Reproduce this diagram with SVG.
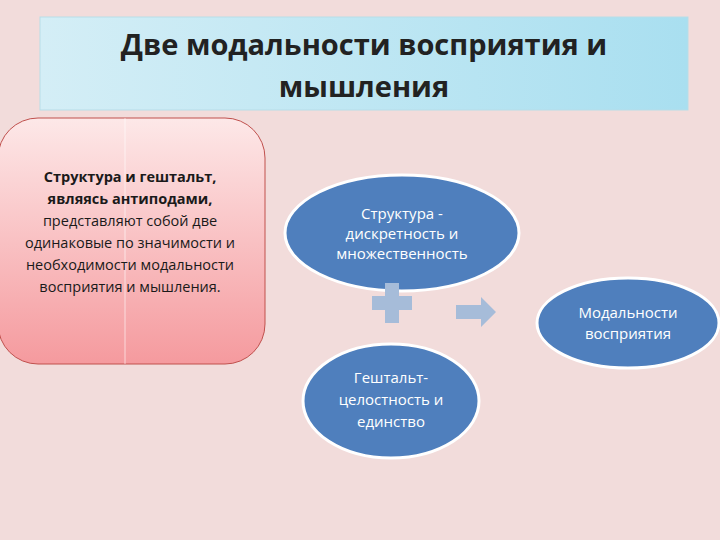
<svg xmlns="http://www.w3.org/2000/svg" width="720" height="540" viewBox="0 0 720 540">
<defs>
<linearGradient id="tg" x1="0" y1="0" x2="1" y2="0"><stop offset="0" stop-color="#d4eef6"/><stop offset="1" stop-color="#a9dff0"/></linearGradient>
<linearGradient id="pg" x1="0" y1="0" x2="0" y2="1"><stop offset="0" stop-color="#fde8e8"/><stop offset="1" stop-color="#f59a9e"/></linearGradient>
<style>
.el{fill:#4f7fbd;stroke:#fff;stroke-width:3}
.w{fill:#fff;font-family:"Open Sans","Noto Sans",sans-serif;font-size:15px;text-anchor:middle}
.b{font-family:"Open Sans","Noto Sans",sans-serif;font-size:14.5px;text-anchor:middle;fill:#1a1a1a}
</style>
</defs>
<rect width="720" height="540" fill="#f2dcdb"/>
<g id="title">
<rect x="40" y="17" width="648" height="93" fill="url(#tg)" stroke="#b7dde8"/>
<text x="364" y="55" font-family="'Open Sans','Noto Sans',sans-serif" font-size="29" font-weight="bold" text-anchor="middle" fill="#222">Две модальности восприятия и</text>
<text x="364" y="97" font-family="'Open Sans','Noto Sans',sans-serif" font-size="29" font-weight="bold" text-anchor="middle" fill="#222">мышления</text>
</g>
<g id="box">
<rect x="-2" y="118" width="267" height="246" rx="40" fill="url(#pg)" stroke="#c0504d"/>
<line x1="125" y1="118" x2="125" y2="364" stroke="#fff" stroke-opacity="0.6"/>
<text class="b" font-weight="bold" x="130" y="182">Структура и гештальт,</text>
<text class="b" font-weight="bold" x="130" y="204">являясь антиподами,</text>
<text class="b" x="130" y="226">представляют собой две</text>
<text class="b" x="130" y="248">одинаковые по значимости и</text>
<text class="b" x="130" y="270">необходимости модальности</text>
<text class="b" x="130" y="292">восприятия и мышления.</text>
</g>
<g id="structure">
<ellipse class="el" cx="402" cy="233" rx="117" ry="58"/>
<text class="w" x="402" y="219">Структура -</text>
<text class="w" x="402" y="239">дискретность и</text>
<text class="w" x="402" y="259">множественность</text>
</g>
<g id="gestalt">
<ellipse class="el" cx="391" cy="401" rx="88" ry="57"/>
<text class="w" x="391" y="383">Гештальт-</text>
<text class="w" x="391" y="405">целостность и</text>
<text class="w" x="391" y="427">единство</text>
</g>
<g id="modal">
<ellipse class="el" cx="628" cy="323" rx="91" ry="45"/>
<text class="w" x="628" y="318" font-size="14">Модальности</text>
<text class="w" x="628" y="339" font-size="14">восприятия</text>
</g>
<g id="connectors">
<path d="M385 283h14v13h13v14h-13v13h-14v-13h-13v-14h13z" fill="#a6bcd9"/>
<path d="M456 305h25v-8l15 15l-15 15v-8h-25z" fill="#a6bcd9"/>
</g>
</svg>
